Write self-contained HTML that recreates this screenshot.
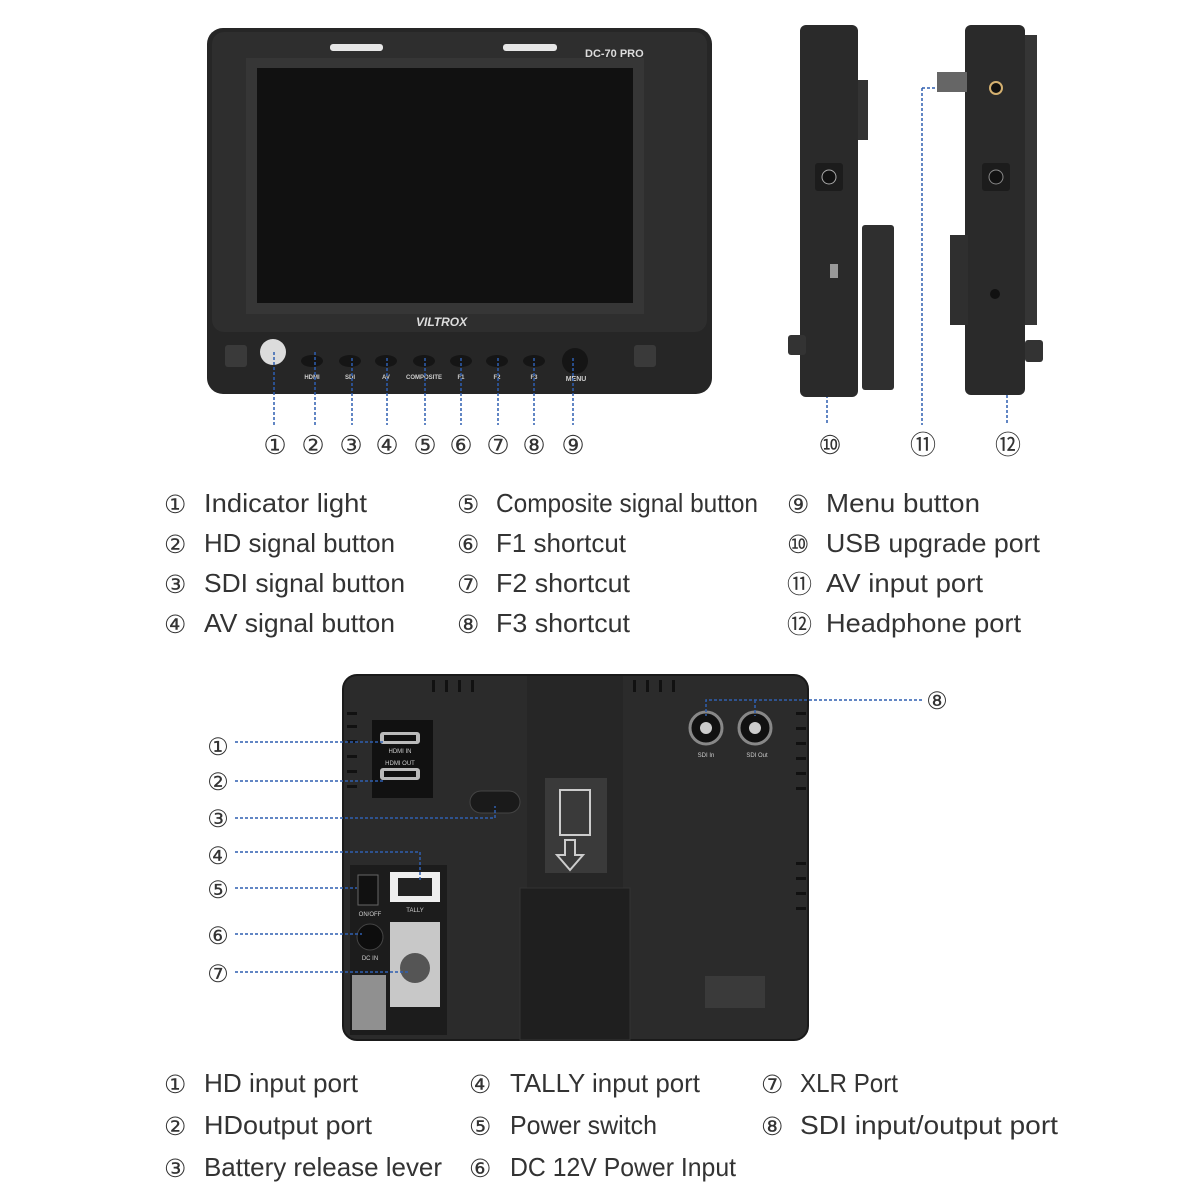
<!DOCTYPE html>
<html><head><meta charset="utf-8"><style>html,body{margin:0;padding:0;background:#fff}svg{display:block}</style></head>
<body>
<svg width="1200" height="1200" viewBox="0 0 1200 1200" xmlns="http://www.w3.org/2000/svg" font-family="Liberation Sans, sans-serif">
<rect width="1200" height="1200" fill="#fff"/>
<!-- FRONT -->
<rect x="207" y="28" width="505" height="366" rx="16" fill="#262626"/>
<rect x="212" y="32" width="495" height="300" rx="12" fill="#2e2e2e"/>
<rect x="246" y="58" width="398" height="256" fill="#363636"/>
<rect x="257" y="68" width="376" height="235" fill="#111"/>
<rect x="330" y="44" width="53" height="7" rx="3" fill="#e6e6e6"/>
<rect x="503" y="44" width="54" height="7" rx="3" fill="#e6e6e6"/>
<text x="585" y="57" fill="#ddd" font-size="11" font-weight="bold">DC-70 PRO</text>
<text x="416" y="326" fill="#ddd" font-size="12" font-weight="bold" font-style="italic">VILTROX</text>
<g fill="#3a3a3a"><rect x="225" y="345" width="22" height="22" rx="3"/><rect x="634" y="345" width="22" height="22" rx="3"/></g>
<circle cx="273" cy="352" r="13" fill="#dcdcdc"/>
<g fill="#151515">
<ellipse cx="312" cy="361" rx="11" ry="6"/><ellipse cx="350" cy="361" rx="11" ry="6"/><ellipse cx="386" cy="361" rx="11" ry="6"/><ellipse cx="424" cy="361" rx="11" ry="6"/><ellipse cx="461" cy="361" rx="11" ry="6"/><ellipse cx="497" cy="361" rx="11" ry="6"/><ellipse cx="534" cy="361" rx="11" ry="6"/>
<circle cx="575" cy="361" r="13"/></g>
<g fill="#ccc" font-size="6" font-weight="bold" text-anchor="middle">
<text x="312" y="379">HDMI</text><text x="350" y="379">SDI</text><text x="386" y="379">AV</text><text x="424" y="379">COMPOSITE</text><text x="461" y="379">F1</text><text x="497" y="379">F2</text><text x="534" y="379">F3</text><text x="576" y="381" font-size="7">MENU</text></g>
<g stroke="#2f5fb0" stroke-width="1.5" stroke-dasharray="3,2">
<line x1="274" y1="352" x2="274" y2="425"/><line x1="315" y1="352" x2="315" y2="425"/><line x1="352" y1="358" x2="352" y2="425"/><line x1="387" y1="358" x2="387" y2="425"/><line x1="425" y1="358" x2="425" y2="425"/><line x1="461" y1="358" x2="461" y2="425"/><line x1="498" y1="358" x2="498" y2="425"/><line x1="534" y1="358" x2="534" y2="425"/><line x1="573" y1="358" x2="573" y2="425"/>
<line x1="827" y1="280" x2="827" y2="425"/><line x1="922" y1="88" x2="922" y2="425"/><line x1="922" y1="88" x2="993" y2="88"/><line x1="1007" y1="295" x2="1007" y2="425"/></g>
<g font-size="26" fill="#333" text-anchor="middle">
<text x="275" y="454">①</text><text x="313" y="454">②</text><text x="351" y="454">③</text><text x="387" y="454">④</text><text x="425" y="454">⑤</text><text x="461" y="454">⑥</text><text x="498" y="454">⑦</text><text x="534" y="454">⑧</text><text x="573" y="454">⑨</text>
<text x="830" y="454">⑩</text><text x="923" y="454">⑪</text><text x="1008" y="454">⑫</text></g>
<!-- SIDE LEFT -->
<rect x="800" y="25" width="58" height="372" rx="6" fill="#2a2a2a"/>
<rect x="858" y="80" width="10" height="60" fill="#333"/>
<rect x="862" y="225" width="32" height="165" rx="3" fill="#2f2f2f"/>
<rect x="788" y="335" width="18" height="20" rx="3" fill="#333"/>
<rect x="815" y="163" width="28" height="28" rx="3" fill="#1c1c1c"/><circle cx="829" cy="177" r="7" fill="#111" stroke="#aaa"/>
<rect x="830" y="264" width="8" height="14" fill="#999"/>
<!-- SIDE RIGHT -->
<rect x="965" y="25" width="60" height="370" rx="6" fill="#2a2a2a"/>
<rect x="1025" y="35" width="12" height="290" fill="#353535"/>
<rect x="950" y="235" width="18" height="90" fill="#2f2f2f"/>
<rect x="937" y="72" width="30" height="20" fill="#666"/>
<rect x="1025" y="340" width="18" height="22" rx="3" fill="#333"/>
<circle cx="996" cy="88" r="6" fill="#111" stroke="#d4b070" stroke-width="2"/>
<rect x="982" y="163" width="28" height="28" rx="3" fill="#1c1c1c"/><circle cx="996" cy="177" r="7" fill="#111" stroke="#888"/>
<circle cx="995" cy="294" r="5" fill="#111"/>
<!-- TOP LEGEND -->
<g fill="#333" font-size="25"><text x="164" y="513">①</text><text x="164" y="553">②</text><text x="164" y="593">③</text><text x="164" y="633">④</text>
<text x="457" y="513">⑤</text><text x="457" y="553">⑥</text><text x="457" y="593">⑦</text><text x="457" y="633">⑧</text>
<text x="787" y="513">⑨</text><text x="787" y="553">⑩</text><text x="787" y="593">⑪</text><text x="787" y="633">⑫</text></g>
<g fill="#333" font-size="26">
<text x="204" y="512" textLength="163" lengthAdjust="spacingAndGlyphs">Indicator light</text>
<text x="204" y="552" textLength="191" lengthAdjust="spacingAndGlyphs">HD signal button</text>
<text x="204" y="592" textLength="201" lengthAdjust="spacingAndGlyphs">SDI signal button</text>
<text x="204" y="632" textLength="191" lengthAdjust="spacingAndGlyphs">AV signal button</text>
<text x="496" y="512" textLength="262" lengthAdjust="spacingAndGlyphs">Composite signal button</text>
<text x="496" y="552" textLength="130" lengthAdjust="spacingAndGlyphs">F1 shortcut</text>
<text x="496" y="592" textLength="134" lengthAdjust="spacingAndGlyphs">F2 shortcut</text>
<text x="496" y="632" textLength="134" lengthAdjust="spacingAndGlyphs">F3 shortcut</text>
<text x="826" y="512" textLength="154" lengthAdjust="spacingAndGlyphs">Menu button</text>
<text x="826" y="552" textLength="214" lengthAdjust="spacingAndGlyphs">USB upgrade port</text>
<text x="826" y="592" textLength="157" lengthAdjust="spacingAndGlyphs">AV input port</text>
<text x="826" y="632" textLength="195" lengthAdjust="spacingAndGlyphs">Headphone port</text></g>
<!-- BACK -->
<rect x="343" y="675" width="465" height="365" rx="14" fill="#2b2b2b"/>
<rect x="527" y="675" width="96" height="365" fill="#262626"/>
<rect x="343" y="675" width="465" height="365" rx="14" fill="none" stroke="#1a1a1a" stroke-width="2"/>
<rect x="372" y="720" width="61" height="78" fill="#111"/>
<rect x="380" y="732" width="40" height="12" rx="3" fill="#bbb"/><rect x="384" y="735" width="32" height="6" fill="#111"/>
<rect x="380" y="768" width="40" height="12" rx="3" fill="#bbb"/><rect x="384" y="771" width="32" height="6" fill="#111"/>
<text x="400" y="753" fill="#ccc" font-size="6" text-anchor="middle">HDMI IN</text>
<text x="400" y="765" fill="#ccc" font-size="6" text-anchor="middle">HDMI OUT</text>
<rect x="470" y="791" width="50" height="22" rx="11" fill="#1a1a1a" stroke="#444"/>
<rect x="545" y="778" width="62" height="95" fill="#3a3a3a"/>
<path d="M560 790 h30 v45 h-30z" fill="none" stroke="#ccc" stroke-width="2"/>
<path d="M565 840 h10 v15 h8 l-13 15 l-13 -15 h8z" fill="none" stroke="#ccc" stroke-width="2"/>
<rect x="520" y="888" width="110" height="152" fill="#1f1f1f" stroke="#333"/>
<rect x="350" y="865" width="97" height="170" fill="#1c1c1c"/>
<rect x="358" y="875" width="20" height="30" fill="#111" stroke="#666"/>
<rect x="390" y="872" width="50" height="30" fill="#eee"/><rect x="398" y="878" width="34" height="18" fill="#222"/>
<text x="415" y="912" fill="#ccc" font-size="6" text-anchor="middle">TALLY</text>
<text x="370" y="916" fill="#ccc" font-size="6" text-anchor="middle">ON/OFF</text>
<circle cx="370" cy="937" r="13" fill="#0d0d0d" stroke="#444"/>
<text x="370" y="960" fill="#ccc" font-size="6" text-anchor="middle">DC IN</text>
<rect x="390" y="922" width="50" height="85" fill="#c8c8c8"/><circle cx="415" cy="968" r="15" fill="#555"/>
<rect x="352" y="975" width="34" height="55" fill="#ddd" opacity="0.6"/>
<circle cx="706" cy="728" r="16" fill="#111" stroke="#888" stroke-width="3"/><circle cx="706" cy="728" r="6" fill="#ccc"/>
<circle cx="755" cy="728" r="16" fill="#111" stroke="#888" stroke-width="3"/><circle cx="755" cy="728" r="6" fill="#ccc"/>
<text x="706" y="757" fill="#ccc" font-size="6" text-anchor="middle">SDI In</text><text x="757" y="757" fill="#ccc" font-size="6" text-anchor="middle">SDI Out</text>
<rect x="705" y="976" width="60" height="32" fill="#3a3a3a"/>
<g fill="#111"><rect x="432" y="680" width="3" height="12"/><rect x="445" y="680" width="3" height="12"/><rect x="458" y="680" width="3" height="12"/><rect x="471" y="680" width="3" height="12"/><rect x="633" y="680" width="3" height="12"/><rect x="646" y="680" width="3" height="12"/><rect x="659" y="680" width="3" height="12"/><rect x="672" y="680" width="3" height="12"/>
<rect x="347" y="712" width="10" height="3"/><rect x="347" y="725" width="10" height="3"/><rect x="347" y="740" width="10" height="3"/><rect x="347" y="755" width="10" height="3"/><rect x="347" y="770" width="10" height="3"/><rect x="347" y="785" width="10" height="3"/>
<rect x="796" y="712" width="10" height="3"/><rect x="796" y="727" width="10" height="3"/><rect x="796" y="742" width="10" height="3"/><rect x="796" y="757" width="10" height="3"/><rect x="796" y="772" width="10" height="3"/><rect x="796" y="787" width="10" height="3"/><rect x="796" y="862" width="10" height="3"/><rect x="796" y="877" width="10" height="3"/><rect x="796" y="892" width="10" height="3"/><rect x="796" y="907" width="10" height="3"/></g>
<g stroke="#2f5fb0" stroke-width="1.5" stroke-dasharray="3,2" fill="none">
<line x1="235" y1="742" x2="385" y2="742"/><line x1="235" y1="781" x2="385" y2="781"/>
<polyline points="235,818 495,818 495,806"/>
<polyline points="235,852 420,852 420,880"/>
<line x1="235" y1="888" x2="357" y2="888"/>
<line x1="235" y1="934" x2="362" y2="934"/>
<line x1="235" y1="972" x2="410" y2="972"/>
<polyline points="922,700 706,700 706,716"/><line x1="755" y1="700" x2="755" y2="716"/></g>
<g font-size="24" fill="#333" text-anchor="middle">
<text x="218" y="755">①</text><text x="218" y="790">②</text><text x="218" y="827">③</text><text x="218" y="864">④</text><text x="218" y="898">⑤</text><text x="218" y="944">⑥</text><text x="218" y="982">⑦</text><text x="937" y="709">⑧</text></g>
<!-- BOTTOM LEGEND -->
<g fill="#333" font-size="25"><text x="164" y="1093">①</text><text x="164" y="1135">②</text><text x="164" y="1177">③</text>
<text x="469" y="1093">④</text><text x="469" y="1135">⑤</text><text x="469" y="1177">⑥</text>
<text x="761" y="1093">⑦</text><text x="761" y="1135">⑧</text></g>
<g fill="#333" font-size="26">
<text x="204" y="1092" textLength="154" lengthAdjust="spacingAndGlyphs">HD input port</text>
<text x="204" y="1134" textLength="168" lengthAdjust="spacingAndGlyphs">HDoutput port</text>
<text x="204" y="1176" textLength="238" lengthAdjust="spacingAndGlyphs">Battery release lever</text>
<text x="510" y="1092" textLength="190" lengthAdjust="spacingAndGlyphs">TALLY input port</text>
<text x="510" y="1134" textLength="147" lengthAdjust="spacingAndGlyphs">Power switch</text>
<text x="510" y="1176" textLength="226" lengthAdjust="spacingAndGlyphs">DC 12V Power Input</text>
<text x="800" y="1092" textLength="98" lengthAdjust="spacingAndGlyphs">XLR Port</text>
<text x="800" y="1134" textLength="258" lengthAdjust="spacingAndGlyphs">SDI input/output port</text></g>
</svg>
</body></html>
